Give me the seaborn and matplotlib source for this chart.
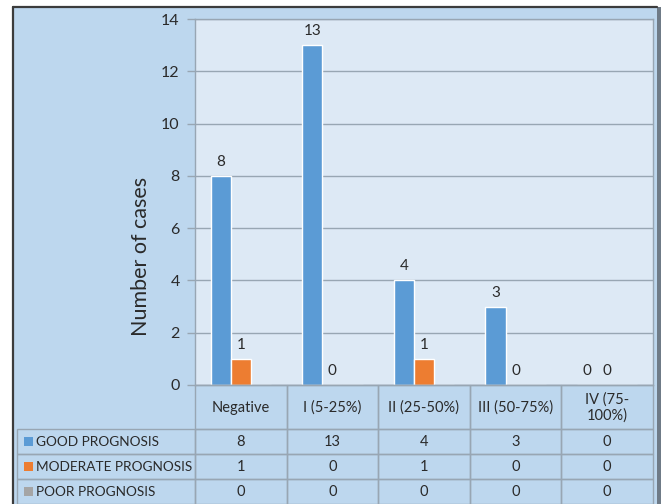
import matplotlib
matplotlib.use("Agg")
import matplotlib.pyplot as plt
from matplotlib.patches import Rectangle
import pandas as pd
import seaborn as sns

# Data
grades = ["Negative", "I (5-25%)", "II (25-50%)", "III (50-75%)", "IV (75-\n100%)"]
series = ["GOOD PROGNOSIS", "MODERATE PROGNOSIS", "POOR PROGNOSIS"]
good = [8, 13, 4, 3, 0]
moderate = [1, 0, 1, 0, 0]
poor = [0, 0, 0, 0, 0]
colors = ["#5b9bd5", "#ed7d31", "#a5a5a5"]
yticks = [0, 2, 4, 6, 8, 10, 12, 14]

values = [good, moderate, poor]
df = pd.DataFrame(
    [(g, s, v[i]) for s, v in zip(series, values) for i, g in enumerate(grades)],
    columns=["grade", "prognosis", "cases"],
)

sns.set_theme(style="white")
plt.rcParams["font.family"] = ["Lato", "DejaVu Sans"]
TXT = "#2a2a2a"
GRID = "#98a6b3"
BG = "#bdd7ee"
PLOT_BG = "#dde9f5"

W, H = 661, 504
fig = plt.figure(figsize=(W / 100, H / 100), dpi=100, facecolor="white")

# Chart area background and outer frame (pixel coordinates)
frame = fig.add_axes([0, 0, 1, 1], zorder=0)
frame.set_xlim(0, W)
frame.set_ylim(H, 0)
frame.axis("off")
frame.add_patch(Rectangle((13, 7), 644, H - 7, facecolor=BG, edgecolor="none"))
frame.plot([12.5, 12.5], [6.5, H], color="#3c3c3c", lw=1.6)
frame.plot([12.5, 657], [6.5, 6.5], color="#3c3c3c", lw=1.6)
frame.add_patch(Rectangle((657, 7), 4, H - 7, facecolor="#6f7b87", edgecolor="none"))

# Plot area
x0, x1, ytop, ybot = 195, 653, 19, 385
ax = fig.add_axes([x0 / W, (H - ybot) / H, (x1 - x0) / W, (ybot - ytop) / H], zorder=2)
ax.set_facecolor(PLOT_BG)
sns.barplot(
    data=df, x="grade", y="cases", hue="prognosis", hue_order=series,
    palette=colors, saturation=1, width=0.66, ax=ax, legend=False,
)
ax.set_ylim(0, 14)
ax.set_yticks(yticks)
ax.set_yticklabels([str(t) for t in yticks], fontsize=11.5, color=TXT)
ax.tick_params(axis="y", which="major", left=True, length=6, width=1, color=GRID, pad=5)
ax.tick_params(axis="x", bottom=False, labelbottom=False)
ax.set_xlabel("")
ax.set_ylabel("")
ax.yaxis.grid(True, color=GRID, lw=1)
ax.set_axisbelow(True)
for sp in ax.spines.values():
    sp.set_color(GRID)
    sp.set_linewidth(1)

# Value labels for good and moderate series
for cont in ax.containers[:2]:
    ax.bar_label(cont, fmt="%d", padding=5, fontsize=11, color=TXT)

# Data table beneath the plot
tab = fig.add_axes([0, 0, 1, 1], zorder=3)
tab.set_xlim(0, W)
tab.set_ylim(H, 0)
tab.axis("off")
tab.patch.set_alpha(0)

# Axis title, centred over plot area plus table
tab.text(141, 256, "Number of cases", rotation=90, ha="center", va="center",
         fontsize=15.5, color=TXT)

ncol = len(grades)
cw = (x1 - x0) / ncol
head_top, head_bot = ybot, 429
row_h = 25
lab_x0 = 17
lw = 1.0

# Header cells
for i, g in enumerate(grades):
    cx = x0 + i * cw
    tab.add_patch(Rectangle((cx, head_top), cw, head_bot - head_top,
                            facecolor="none", edgecolor=GRID, lw=lw))
    tab.text(cx + cw / 2, (head_top + head_bot) / 2 + 1, g, ha="center", va="center",
             fontsize=10.5, color=TXT, linespacing=1.15)

# Series rows
for r, (s, v, c) in enumerate(zip(series, values, colors)):
    ry = head_bot + r * row_h
    tab.add_patch(Rectangle((lab_x0, ry), x0 - lab_x0, row_h,
                            facecolor="none", edgecolor=GRID, lw=lw))
    tab.add_patch(Rectangle((lab_x0 + 7, ry + row_h / 2 - 4.5), 9, 9,
                            facecolor=c, edgecolor="none"))
    tab.text(lab_x0 + 19, ry + row_h / 2 + 0.5, s, ha="left", va="center",
             fontsize=9.8, color=TXT)
    for i in range(ncol):
        cx = x0 + i * cw
        tab.add_patch(Rectangle((cx, ry), cw, row_h,
                                facecolor="none", edgecolor=GRID, lw=lw))
        tab.text(cx + cw / 2, ry + row_h / 2 + 0.5, str(v[i]), ha="center",
                 va="center", fontsize=10.5, color=TXT)

fig.savefig("out.png", dpi=100, facecolor=fig.get_facecolor())
